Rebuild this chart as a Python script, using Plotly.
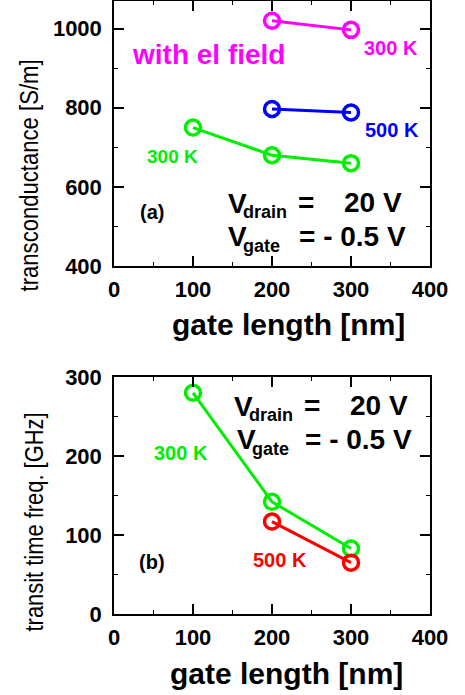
import plotly.graph_objects as go

W, H = 465, 695

# ---- data ----
gate_len_300 = [100, 200, 300]
gm_300 = [750, 680, 660]
gate_len_500 = [200, 300]
gm_500 = [797, 788]
gate_len_field = [200, 300]
gm_field_300 = [1020, 997]

ft_len_300 = [100, 200, 300]
ft_300 = [280, 142, 83]
ft_len_500 = [200, 300]
ft_500 = [117, 65]

x_ticks = [0, 100, 200, 300, 400]
gm_ticks = [400, 600, 800, 1000]
ft_ticks = [0, 100, 200, 300]

GREEN = "#00ee00"
BLUE = "#0000ff"
MAGENTA = "#ff00ff"
RED = "#ff0000"

def px(x):
    return x / W

def py(y):
    return 1 - y / H

fig = go.Figure()

def add_series(x, y, color, xa, ya):
    fig.add_trace(go.Scatter(
        x=x, y=y, mode="lines+markers", xaxis=xa, yaxis=ya,
        line=dict(color=color, width=3),
        marker=dict(symbol="circle-open", size=15, color=color, line=dict(width=3.5, color=color)),
        showlegend=False, cliponaxis=False))

add_series(gate_len_300, gm_300, GREEN, "x", "y")
add_series(gate_len_500, gm_500, BLUE, "x", "y")
add_series(gate_len_field, gm_field_300, MAGENTA, "x", "y")
add_series(ft_len_300, ft_300, GREEN, "x2", "y2")
add_series(ft_len_500, ft_500, RED, "x2", "y2")

tickfont = dict(family="Liberation Sans, Arial", size=22, color="black", weight="bold")

axis_common = dict(
    showgrid=False, zeroline=False, showline=True, linecolor="black", linewidth=1.5,
    mirror="ticks", ticks="inside", ticklen=10, tickwidth=1.5, tickcolor="black",
    tickfont=tickfont, automargin=False,
)

def minor(d):
    return dict(ticks="inside", ticklen=4, dtick=d, tickwidth=1.2, tickcolor="black")

xdom = [px(114), px(430)]
fig.update_layout(
    width=W, height=H, margin=dict(l=0, r=0, t=0, b=0, autoexpand=False),
    paper_bgcolor="white", plot_bgcolor="white",
    xaxis=dict(domain=xdom, anchor="y", range=[0, 400], tickvals=x_ticks,
               minor=minor(50), ticklabelstandoff=3, **axis_common),
    yaxis=dict(domain=[py(266), py(1)], anchor="x", range=[400, 1070], tickvals=gm_ticks,
               minor=minor(100), ticklabelstandoff=6, **axis_common),
    xaxis2=dict(domain=xdom, anchor="y2", range=[0, 400], tickvals=x_ticks,
                minor=minor(50), ticklabelstandoff=3, **axis_common),
    yaxis2=dict(domain=[py(614), py(377)], anchor="x2", range=[0, 300], tickvals=ft_ticks,
                minor=minor(50), ticklabelstandoff=6, **axis_common),
)

anns = []

def ann(text, x, y, size, color="black", bold=True, xanchor="center", yanchor="middle",
        angle=0, family="Liberation Sans, Arial"):
    anns.append(dict(text=text, x=px(x), y=py(y), xref="paper", yref="paper",
                     showarrow=False, xanchor=xanchor, yanchor=yanchor, textangle=angle,
                     font=dict(family=family, size=size, color=color,
                               weight="bold" if bold else "normal")))

# axis titles
ann("gate length [nm]", 288, 324, 30)
ann("gate length [nm]", 286, 673, 30)
ann("transconductance [S/m]", 29, 176, 26, bold=False, angle=-90)
ann("transit time freq. [GHz]", 34, 522, 26, bold=False, angle=-90)

# panel (a) labels
ann("with el field", 208, 55, 28, color=MAGENTA)
ann("300 K", 391, 48, 20, color=MAGENTA)
ann("500 K", 392, 130, 20, color=BLUE)
ann("300 K", 172, 157, 19, color=GREEN)
ann("(a)", 152, 212, 20)

def vlabel(x, y, sub):
    ann("V", x, y, 28, xanchor="left")
    ann(sub, x + 15, y + 9, 18, xanchor="left")

vlabel(226, 203, "drain")
ann("=", 296, 202, 28, xanchor="left")
ann("20 V", 404, 202, 28, xanchor="right")
vlabel(226, 237, "gate")
ann("= - 0.5 V", 297, 236, 28, xanchor="left")

# panel (b) labels
ann("300 K", 181, 453, 20, color=GREEN)
ann("500 K", 280, 560, 20, color=RED)
ann("(b)", 152, 562, 20)
vlabel(232, 406, "drain")
ann("=", 302, 405, 28, xanchor="left")
ann("20 V", 410, 405, 28, xanchor="right")
vlabel(235, 440, "gate")
ann("= - 0.5 V", 303, 439, 28, xanchor="left")

# cropped caption at the bottom edge
anns.append(dict(text="(a)  Calculated transconductance and transit frequency for different",
                 x=px(20), y=py(693), xref="paper", yref="paper", showarrow=False,
                 xanchor="left", yanchor="top",
                 font=dict(family="Liberation Serif, Times New Roman", size=20, color="black")))

fig.update_layout(annotations=anns)

# condense the y-axis titles (the reference uses a narrow face)
post_js = """
var gd = document.getElementById('{plot_id}');
var lens = {'transconductance [S/m]': 232, 'transit time freq. [GHz]': 219};
gd.querySelectorAll('text.annotation-text').forEach(function(t){
  var L = lens[t.textContent];
  if (L) { t.setAttribute('textLength', L); t.setAttribute('lengthAdjust', 'spacingAndGlyphs'); }
});
"""
fig.write_html("out.html", post_script=post_js)
